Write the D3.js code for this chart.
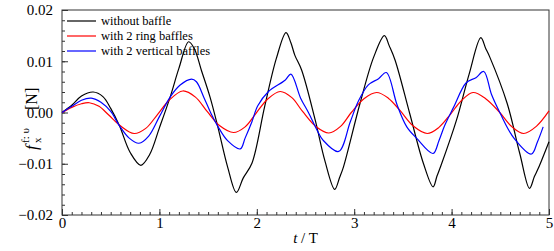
<!DOCTYPE html>
<html>
<head>
<meta charset="utf-8">
<script src="https://cdn.jsdelivr.net/npm/d3@7"></script>
<style>
  body { margin: 0; background: #fff; }
  svg text { font-family: 'Liberation Serif', 'DejaVu Serif', serif; }
</style>
</head>
<body>
<svg id="chart"></svg>
<script>
// t / T , f (N)
const withoutBaffle = [
    [0, 0], [0.1, 0.0014], [0.2, 0.0032], [0.32, 0.0040], [0.42, 0.0031], [0.5, 0.0008],
    [0.59, -0.0026], [0.7, -0.0078], [0.81, -0.0103], [0.9, -0.0082], [1.0, -0.0030],
    [1.11, 0.0030], [1.2, 0.0086], [1.3, 0.0138], [1.36, 0.0124], [1.43, 0.0083],
    [1.52, 0.0030], [1.6, -0.0028], [1.7, -0.0106], [1.79, -0.0156], [1.86, -0.0128],
    [1.95, -0.0099], [2.08, 0.0011], [2.2, 0.0105], [2.30, 0.0156], [2.35, 0.0136],
    [2.39, 0.0112], [2.46, 0.0083], [2.6, -0.0015], [2.7, -0.0095], [2.80, -0.0150],
    [2.85, -0.0127], [2.89, -0.0106], [3.06, 0.0018], [3.2, 0.0108], [3.31, 0.0150],
    [3.36, 0.0130], [3.42, 0.0102], [3.57, -0.0002], [3.71, -0.0099], [3.81, -0.0145],
    [3.85, -0.0124], [3.89, -0.0104], [4.05, -0.0015], [4.18, 0.0075], [4.30, 0.0146],
    [4.35, 0.0125], [4.39, 0.0109], [4.57, 0.0018], [4.70, -0.0080], [4.80, -0.0148],
    [4.85, -0.0125], [4.89, -0.0109], [5.0, -0.0057]
];

const ringBaffles = [
    [0, 0], [0.1, 0.0010], [0.2, 0.0017], [0.28, 0.0019], [0.38, 0.0012], [0.48, -0.0005],
    [0.6, -0.0026], [0.74, -0.0041], [0.86, -0.0031], [0.98, -0.0004], [1.1, 0.0024],
    [1.24, 0.0042], [1.37, 0.0030], [1.49, 0.0002], [1.62, -0.0026], [1.76, -0.0039],
    [1.88, -0.0028], [1.99, -0.0002], [2.11, 0.0026], [2.24, 0.0041], [2.36, 0.0029],
    [2.47, 0.0002], [2.61, -0.0028], [2.74, -0.0040], [2.86, -0.0027], [2.97, 0.0000],
    [3.1, 0.0027], [3.23, 0.0039], [3.35, 0.0028], [3.47, 0.0004], [3.61, -0.0027],
    [3.75, -0.0041], [3.87, -0.0029], [3.99, -0.0003], [4.1, 0.0023], [4.22, 0.0039],
    [4.35, 0.0027], [4.49, 0.0001], [4.62, -0.0028], [4.74, -0.0041], [4.87, -0.0027],
    [5.0, 0.0003]
];

const verticalBaffles = [
    [0, 0], [0.1, 0.0012], [0.2, 0.0024], [0.30, 0.0028], [0.4, 0.0020], [0.5, 0.0002],
    [0.59, -0.0026], [0.69, -0.0050], [0.79, -0.0060], [0.89, -0.0046], [1.0, -0.0008],
    [1.11, 0.0030], [1.21, 0.0053], [1.33, 0.0065], [1.38, 0.0060], [1.46, 0.0028],
    [1.53, -0.0002], [1.6, -0.0027], [1.7, -0.0055], [1.83, -0.0071], [1.88, -0.0050],
    [1.95, -0.0018], [2.01, 0.0013], [2.12, 0.0041], [2.29, 0.0063], [2.35, 0.0075],
    [2.45, 0.0028], [2.53, 0.0000], [2.62, -0.0035], [2.68, -0.0054], [2.84, -0.0076],
    [2.96, -0.0018], [3.04, 0.0021], [3.145, 0.0054], [3.25, 0.0066], [3.33, 0.0078],
    [3.44, 0.0015], [3.54, -0.0028], [3.64, -0.0050], [3.81, -0.0080], [3.87, -0.0055],
    [3.93, -0.0025], [4.02, 0.0010], [4.15, 0.0058], [4.25, 0.0068], [4.33, 0.0080],
    [4.41, 0.0035], [4.50, -0.0002], [4.64, -0.0050], [4.82, -0.0081], [4.88, -0.0058],
    [4.94, -0.0028]
];

const seriesNames = ["without baffle", "with 2 ring baffles", "with 2 vertical baffles"];
const seriesColors = ["#000000", "#ff0000", "#0000ff"];

const xTicks = [0, 1, 2, 3, 4, 5];
const xTickLabels = ["0", "1", "2", "3", "4", "5"];
const yTicks = [-0.02, -0.01, 0, 0.01, 0.02];
const yTickLabels = ["\u22120.02", "\u22120.01", "0.00", "0.01", "0.02"];

const width = 554;
const height = 251;
const margin = { top: 10, right: 5, bottom: 36, left: 62 };
const serif = "'Liberation Serif', 'DejaVu Serif', serif";

const svg = d3.select('#chart').attr('width', width).attr('height', height);

const x = d3.scaleLinear().domain([0, 5]).range([margin.left, width - margin.right]);
const y = d3.scaleLinear().domain([-0.02, 0.02]).range([height - margin.bottom, margin.top]);

const axisColor = '#333';

// frame
svg.append('rect')
    .attr('x', x(0)).attr('y', y(0.02))
    .attr('width', x(5) - x(0)).attr('height', y(-0.02) - y(0.02))
    .attr('fill', 'none').attr('stroke', axisColor).attr('stroke-width', 1);

// minor ticks
svg.append('g')
    .attr('transform', `translate(0, ${y(-0.02)})`)
    .call(d3.axisBottom(x).tickValues(d3.range(0, 51).map(i => i / 10)).tickSize(-3).tickSizeOuter(0).tickFormat(''))
    .call(g => g.select('.domain').remove());
svg.append('g')
    .attr('transform', `translate(${x(0)}, 0)`)
    .call(d3.axisLeft(y).tickValues(d3.range(-10, 11).map(i => i * 0.002)).tickSize(-3).tickSizeOuter(0).tickFormat(''))
    .call(g => g.select('.domain').remove());

// major ticks + labels
svg.append('g')
    .attr('transform', `translate(0, ${y(-0.02)})`)
    .call(d3.axisBottom(x).tickValues(xTicks).tickSize(-6).tickSizeOuter(0).tickPadding(2)
        .tickFormat((d, i) => xTickLabels[i]))
    .attr('font-family', serif)
    .attr('font-size', 15)
    .call(g => g.select('.domain').remove())
    .selectAll('text')
    .attr('fill', '#000');

svg.append('g')
    .attr('transform', `translate(${x(0)}, 0)`)
    .call(d3.axisLeft(y).tickValues(yTicks).tickSize(-6).tickSizeOuter(0).tickPadding(9)
        .tickFormat((d, i) => yTickLabels[i]))
    .attr('font-family', serif)
    .attr('font-size', 15)
    .call(g => g.select('.domain').remove())
    .selectAll('text')
    .attr('fill', '#000');

svg.selectAll('.tick line').attr('stroke', axisColor);

// axis titles
const xt = svg.append('text')
    .attr('x', (x(0) + x(5)) / 2)
    .attr('y', 243)
    .attr('text-anchor', 'middle')
    .attr('font-size', 15);
xt.append('tspan').attr('font-style', 'italic').text('t');
xt.append('tspan').text(' / T');

const yt = svg.append('g').attr('transform', 'translate(37, 150) rotate(-90)');
yt.append('text').attr('x', 0).attr('y', 0).attr('font-style', 'italic').attr('font-size', 17).text('f');
yt.append('text').attr('x', 7).attr('y', -8).attr('font-size', 11).text('f: \u03c5');
yt.append('text').attr('x', 7).attr('y', 4).attr('font-size', 11).text('x');
yt.append('text').attr('x', 40).attr('y', 0).attr('font-size', 16).text('[N]');

// legend
const legend = svg.append('g').attr('transform', 'translate(67, 21)');
seriesNames.forEach((name, i) => {
    legend.append('line')
        .attr('x1', 0).attr('x2', 29)
        .attr('y1', i * 15).attr('y2', i * 15)
        .attr('stroke', seriesColors[i]).attr('stroke-width', 1.2);
    legend.append('text')
        .attr('x', 34).attr('y', i * 15 + 4)
        .attr('font-size', 12.5)
        .attr('fill', '#000')
        .text(name);
});

// curves
const line = d3.line()
    .x(d => x(d[0]))
    .y(d => y(d[1]))
    .curve(d3.curveCatmullRom.alpha(0.5));

[withoutBaffle, ringBaffles, verticalBaffles].forEach((s, i) => {
    svg.append('path')
        .datum(s)
        .attr('fill', 'none')
        .attr('stroke', seriesColors[i])
        .attr('stroke-width', 1.2)
        .attr('d', line);
});
</script>
</body>
</html>
